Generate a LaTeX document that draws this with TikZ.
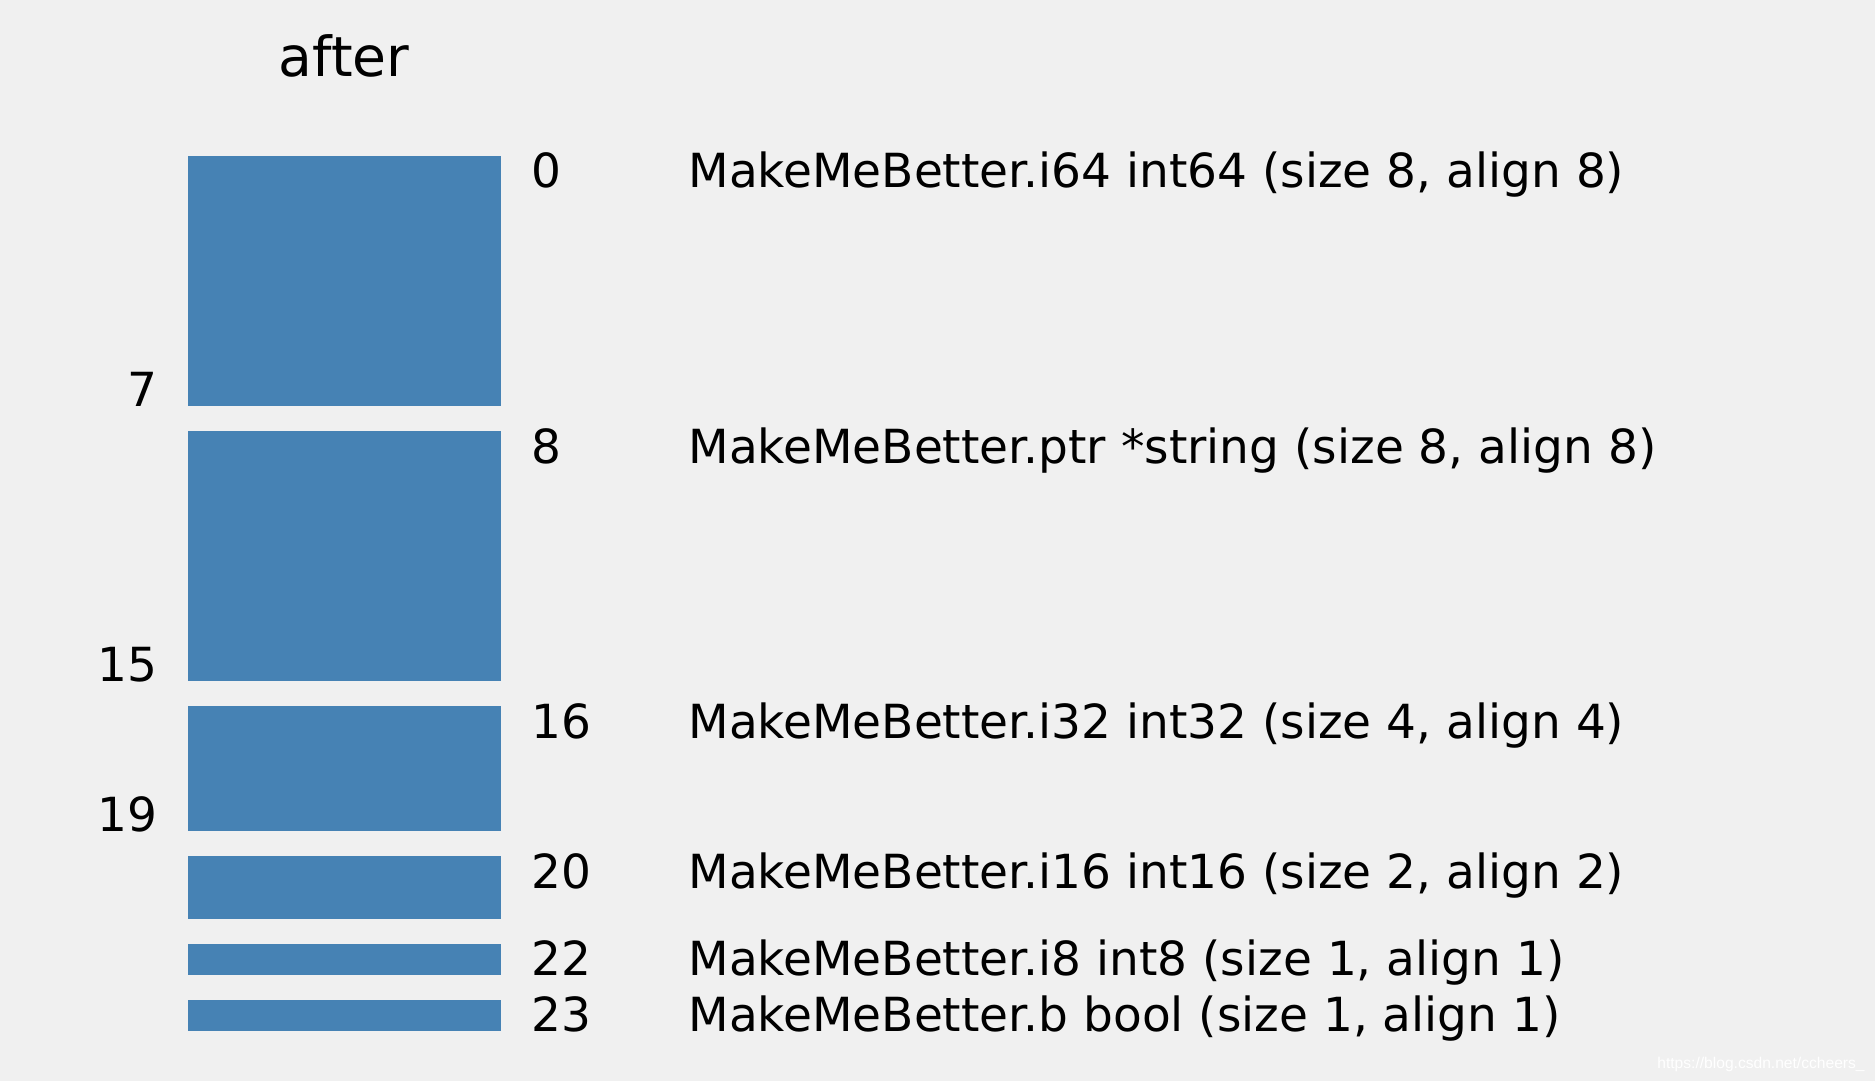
\documentclass[tikz,border=0pt]{standalone}
\usepackage{fontspec}
\setmainfont{DejaVu Sans}
\newfontfamily\wmfont{Liberation Sans}
\usepackage{tikz}
\usetikzlibrary{positioning}
\definecolor{bgcol}{HTML}{F0F0F0}
\definecolor{barcol}{HTML}{4682B4}

\begin{document}
\begin{tikzpicture}[x = 0.5pt, y = -0.5pt,
    bar/.style = {fill = barcol, inner sep = 0, outer sep = 0, minimum width = 156.5pt,
        minimum height = #1*15.625pt, anchor = north west},
    offs/.style = {inner sep = 0, font = \fontsize{23.5}{28}\selectfont, anchor = base west},
    field/.style = {offs},
    ttl/.style = {inner sep = 0, font = \fontsize{27.6}{33}\selectfont, anchor = base},
    wmark/.style = {inner sep = 0, font = \wmfont\fontsize{7.8}{9}\selectfont, white, anchor = base east}]

\fill[bgcol] (0,0) rectangle (1875,1081);

\node[bar = 8] (b0) at (187.5,156) {};
\node[bar = 8, below = 12.5pt of b0] (b8) {};
\node[bar = 4, below = 12.5pt of b8] (b16) {};
\node[bar = 2, below = 12.5pt of b16] (b20) {};
\node[bar = 1, below = 12.5pt of b20] (b22) {};
\node[bar = 1, below = 12.5pt of b22] (b23) {};

\node[ttl] (title) at ([yshift = 39.5pt]b0.north) {after};

\foreach \b/\n/\txt in {b0/0/{MakeMeBetter.i64 int64 (size 8, align 8)},
    b8/8/{MakeMeBetter.ptr *string (size 8, align 8)},
    b16/16/{MakeMeBetter.i32 int32 (size 4, align 4)},
    b20/20/{MakeMeBetter.i16 int16 (size 2, align 2)},
    b22/22/{MakeMeBetter.i8 int8 (size 1, align 1)},
    b23/23/{MakeMeBetter.b bool (size 1, align 1)}}
{
    \node[offs] (o\n) at ([xshift = 15.3pt, yshift = -16pt]\b.north east) {\n};
    \node[field] (f\n) at ([xshift = 78.5pt]o\n.base west) {\txt};
}

\foreach \b/\n in {b0/7, b8/15, b16/19}
    \node[offs, anchor = base east] (e\n) at ([xshift = -14.75pt]\b.south west) {\n};

\node[wmark] (wm) at (1865,1068) {https://blog.csdn.net/ccheers\_};

\end{tikzpicture}
\end{document}
